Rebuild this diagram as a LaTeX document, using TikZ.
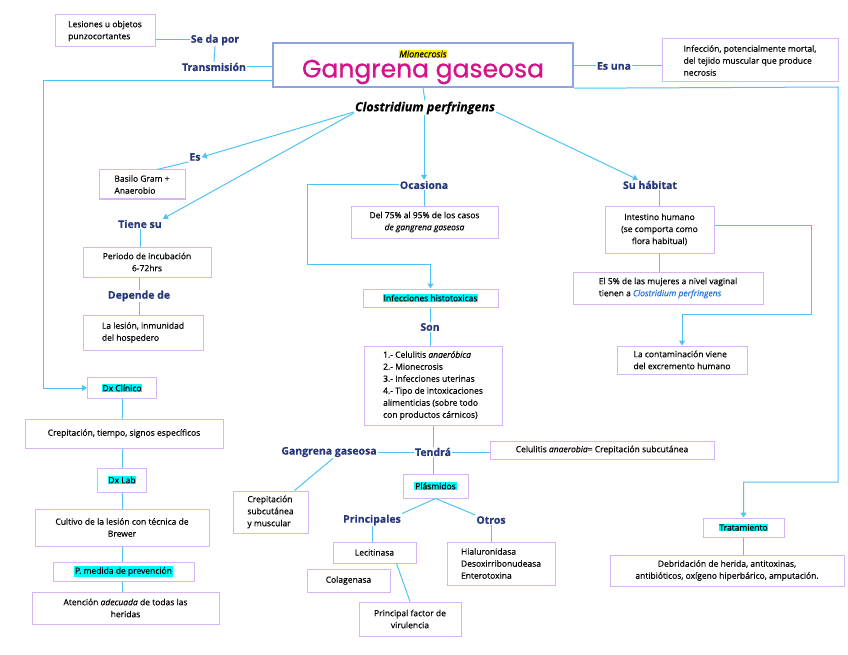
\documentclass[tikz,border=0pt]{standalone}
\usepackage{fontspec}
\setmainfont{Open Sans}[FakeBold=0.3]
\newfontfamily\titulofont{Poppins}[FakeBold=0.8]
\usetikzlibrary{arrows.meta}

\definecolor{lila}{RGB}{215,180,245}
\definecolor{celeste}{RGB}{80,195,245}
\definecolor{azulosc}{RGB}{38,56,122}
\definecolor{fucsia}{RGB}{212,18,140}
\definecolor{azultit}{RGB}{140,165,225}
\definecolor{resalte}{RGB}{0,250,250}
\definecolor{azulcp}{RGB}{30,115,220}

\newcommand{\resalta}[1]{{\setlength{\fboxsep}{0.8pt}\colorbox{resalte}{#1}}}
\newcommand{\amarillo}[1]{{\setlength{\fboxsep}{0.8pt}\colorbox{yellow}{#1}}}

\begin{document}
\begin{tikzpicture}[
        x=1pt, y=-1pt,
        >={Triangle[width=6pt,length=5pt]},
        % Stile dei riquadri
        caja/.style={
            draw=lila,
            line width=1pt,
            fill=white,
            inner xsep=4pt,
            inner ysep=2pt,
            align=left,
            font=\fontsize{8.5}{12}\selectfont
        },
        % Parole di collegamento
        enlace/.style={
            text=azulosc,
            inner sep=1pt,
            font=\fontsize{10.5}{12}\selectfont\bfseries
        },
        linea/.style={draw=celeste, line width=1pt},
        flecha/.style={linea, ->, color=celeste}
    ]

    \fill[white] (0,0) rectangle (848,655);

    % --- Titolo ---
    \node[draw=azultit, line width=2.5pt, minimum width=300pt, minimum height=44pt] (titulo) at (423,65) {};
    \node[inner sep=0pt, font=\fontsize{9}{10}\selectfont\itshape] (mionecrosis) at (423,54) {\amarillo{Mionecrosis}};
    \node[inner sep=0pt, text=fucsia, font=\fontsize{25}{28}\titulofont] (gangrena) at (423,72) {Gangrena gaseosa};

    % --- Transmisión ---
    \node[caja, minimum width=100pt, minimum height=32pt] (lesiones) at (105,31) {Lesiones u objetos\\punzocortantes};
    \node[enlace] (sedapor) at (215,40) {Se da por};
    \node[enlace] (transmision) at (214,67) {Transmisión};
    \draw[linea] (lesiones.east |- sedapor.west) -- (sedapor.west);
    \draw[linea] (sedapor.south) -- (transmision.north);
    \draw[linea] (transmision.east) -- (titulo.west |- transmision);

    % --- Es una ---
    \node[enlace] (esuna) at (614,66) {Es una};
    \node[caja, minimum width=176pt, minimum height=43pt] (infeccion) at (750,60.5) {Infección, potencialmente mortal,\\del tejido muscular que produce\\necrosis};
    \draw[linea] (titulo.east |- esuna) -- (esuna.west);
    \draw[linea] (esuna.east) -- (infeccion.west |- esuna);

    % --- Clostridium ---
    \node[inner sep=1pt, font=\fontsize{12.5}{14}\selectfont\bfseries\itshape] (clostridium) at (425,108) {Clostridium perfringens};
    \draw[linea] (titulo.south) -- (clostridium.north);

    % --- Es / Tiene su ---
    \node[enlace] (es) at (195,157) {Es};
    \node[caja, minimum width=86pt, minimum height=29pt] (basilo) at (142,184.5) {Basilo Gram +\\Anaerobio};
    \node[enlace] (tienesu) at (140,224) {Tiene su};
    \node[caja, align=center, minimum width=128pt, minimum height=30pt] (periodo) at (147,262) {Periodo de incubación\\6-72hrs};
    \node[enlace] (dependede) at (139,296) {Depende de};
    \node[caja, minimum width=120pt, minimum height=35pt] (lalesion) at (143,332.5) {La lesión, inmunidad\\del hospedero};
    \draw[flecha] ([yshift=-4pt]clostridium.west) -- (es.east);
    \draw[flecha] ([yshift=-5pt]clostridium.west) -- (tienesu.north east);
    \draw[linea] (es.south west) -- ([xshift=15pt]basilo.north);
    \draw[linea] (tienesu.south) -- (tienesu.south |- periodo.north);
    \draw[linea] (periodo.south -| dependede) -- (dependede.north);
    \draw[linea] (dependede.south) -- (dependede.south |- lalesion.north);

    % --- Diagnostico ---
    \node[caja, minimum width=69pt, minimum height=21pt] (dxclinico) at (122,388) {\resalta{Dx Clínico}};
    \node[caja, minimum width=198pt, minimum height=29pt] (crepitacion) at (124,433.5) {Crepitación, tiempo, signos específicos};
    \node[caja, minimum width=49pt, minimum height=24pt] (dxlab) at (122,480) {\resalta{Dx Lab}};
    \node[caja, align=center, minimum width=174pt, minimum height=37pt] (cultivo) at (122,527.5) {Cultivo de la lesión con técnica de\\Brewer};
    \node[caja, minimum width=141pt, minimum height=19pt] (medida) at (123.5,571.5) {\resalta{P. medida de prevención}};
    \node[caja, align=center, minimum width=187pt, minimum height=32pt] (atencion) at (125.5,608) {Atención \textit{adecuada} de todas las\\heridas};
    \coordinate (izq) at (43,81);
    \draw[flecha] (titulo.west |- izq) -- (izq) |- (dxclinico.west);
    \draw[linea] (dxclinico.south) -- (dxclinico.south |- crepitacion.north);
    \draw[linea] (dxclinico.south |- crepitacion.south) -- (dxlab.north);
    \draw[linea] (dxlab.south) -- (dxlab.south |- cultivo.north);
    \draw[linea] (dxlab.south |- cultivo.south) -- (dxlab.south |- medida.north);
    \draw[linea] (dxlab.south |- medida.south) -- (dxlab.south |- atencion.north);

    % --- Ocasiona ---
    \node[enlace] (ocasiona) at (424,185) {Ocasiona};
    \node[caja, align=center, minimum width=147pt, minimum height=32pt] (del75) at (424.5,222) {Del 75\% al 95\% de los casos\\\textit{de gangrena gaseosa}};
    \node[caja, minimum width=135pt, minimum height=18pt] (histotox) at (430.5,298) {\resalta{Infecciones histotoxicas}};
    \node[enlace] (son) at (430,327) {Son};
    \node[caja, minimum width=138pt, minimum height=79pt] (lista) at (433,385.5) {1.- Celulitis \textit{anaeróbica}\\2.- Mionecrosis\\3.- Infecciones uterinas\\4.- Tipo de intoxicaciones\\alimenticias (sobre todo\\con productos cárnicos)};
    \coordinate (oca) at (307,264);
    \draw[flecha] (clostridium.south -| ocasiona) -- (ocasiona.north);
    \draw[linea] (ocasiona.south) -- (del75.north -| ocasiona);
    \draw[flecha] (ocasiona.west) -| (oca) -| (histotox.north);
    \draw[linea] (histotox.south -| son) -- (son.north);
    \draw[linea] (son.south) -- (son.south |- lista.north);

    % --- Tendrá ---
    \node[enlace] (tendra) at (433,452) {Tendrá};
    \node[enlace] (gangrenalbl) at (329,452) {Gangrena gaseosa};
    \node[caja, minimum width=224pt, minimum height=18pt] (celulitis) at (602,450) {Celulitis \textit{anaerobia}= Crepitación subcutánea};
    \node[caja, minimum width=75pt, minimum height=42pt] (crepsub) at (270.5,512) {Crepitación\\subcutánea\\y muscular};
    \node[caja, minimum width=65pt, minimum height=24pt] (plasmidos) at (435.5,486) {\resalta{Plásmidos}};
    \draw[linea] (lista.south -| tendra) -- (tendra.north);
    \draw[linea] (tendra.south) -- (tendra.south |- plasmidos.north);
    \draw[linea] (gangrenalbl.east) -- (tendra.west);
    \draw[linea] (tendra.east) -- (celulitis.west |- tendra);
    \draw[linea] ([xshift=4pt]gangrenalbl.south) -- ([xshift=24pt]crepsub.north);

    % --- Plásmidos ---
    \node[enlace] (principales) at (372,520) {Principales};
    \node[enlace] (otros) at (491,520) {Otros};
    \node[caja, minimum width=83pt, minimum height=21pt] (lecitinasa) at (374.5,552.5) {Lecitinasa};
    \node[caja, minimum width=108pt, minimum height=43pt] (enzimas) at (501,563.5) {Hialuronidasa\\Desoxirribonudeasa\\Enterotoxina};
    \node[caja, minimum width=83pt, minimum height=23pt] (colagenasa) at (348.5,580.5) {Colagenasa};
    \node[caja, align=center, minimum width=102pt, minimum height=34pt] (factor) at (410,619) {Principal factor de\\virulencia};
    \draw[linea] (plasmidos.south) -- (principales.north east);
    \draw[linea] (plasmidos.south) -- (otros.north west);
    \draw[linea] (principales.south) -- (principales.south |- lecitinasa.north);
    \draw[linea] (otros.south) -- (otros.south |- enzimas.north);
    \draw[linea] ([xshift=22pt]lecitinasa.south) -- (factor.north);

    % --- Su hábitat ---
    \node[enlace] (habitat) at (650,185) {Su hábitat};
    \node[caja, align=center, minimum width=109pt, minimum height=47pt] (intestino) at (659.5,229.5) {Intestino humano\\(se comporta como\\flora habitual)};
    \node[caja, minimum width=190pt, minimum height=32pt] (cinco) at (668,288) {El 5\% de las mujeres a nivel vaginal\\tienen a \textcolor{azulcp}{\textit{Clostridium perfringens}}};
    \node[caja, minimum width=130pt, minimum height=28pt] (contaminacion) at (682,360) {La contaminación viene\\del excremento humano};
    \coordinate (hab) at (811,314);
    \draw[flecha] ([yshift=-4pt]clostridium.east) -- ([xshift=-12pt]habitat.north);
    \draw[linea] (intestino.north |- habitat.south) -- (intestino.north);
    \draw[linea] (intestino.south) -- (intestino.south |- cinco.north);
    \draw[flecha] ([yshift=4pt]intestino.east) -| (hab) -| (contaminacion.north);

    % --- Tratamiento ---
    \node[caja, minimum width=81pt, minimum height=19pt] (tratamiento) at (743.5,527.5) {\resalta{Tratamiento}};
    \node[caja, align=center, minimum width=234pt, minimum height=31pt] (debrid) at (727,570.5) {Debridación de herida, antitoxinas,\\antibióticos, oxígeno hiperbárico, amputación.};
    \coordinate (der1) at (838,87);
    \coordinate (der2) at (838,482);
    \draw[flecha] (titulo.south east) -- (der1) -- (der2) -| (tratamiento.north);
    \draw[linea] (tratamiento.south) -- (tratamiento.south |- debrid.north);

\end{tikzpicture}
\end{document}
